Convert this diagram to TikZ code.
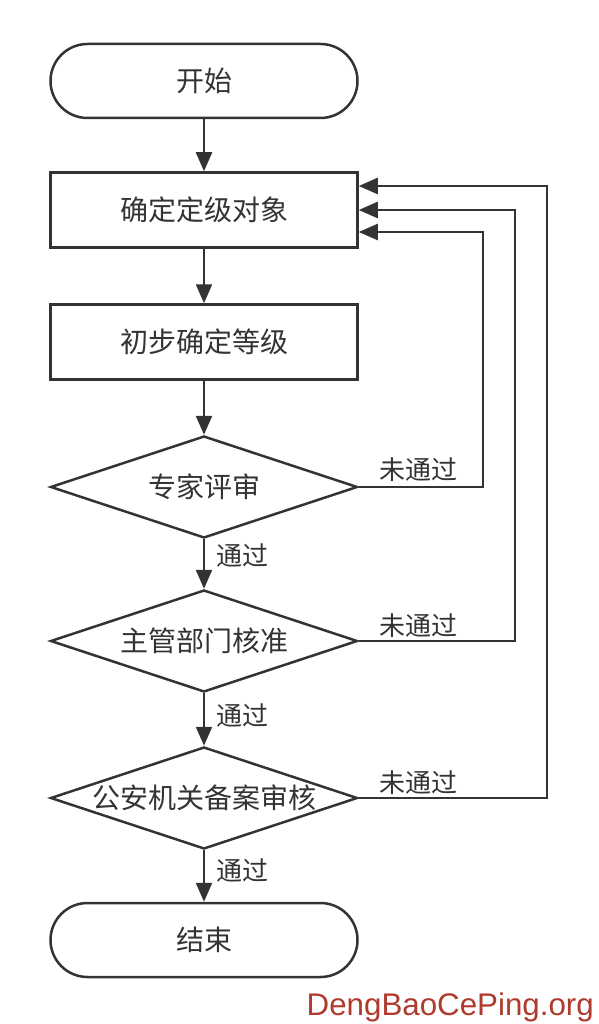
\documentclass[tikz,border=0pt]{standalone}
\usepackage{fontspec}
\newfontfamily\cjk{Noto Sans CJK SC}
\newfontfamily\wmfont{Liberation Sans}
\usetikzlibrary{shapes.geometric,arrows.meta}
\definecolor{ln}{HTML}{333333}
\definecolor{wm}{HTML}{B03A2E}
\newcommand{\zw}[1]{\makebox[0pt]{#1}}
\begin{document}
\begin{tikzpicture}[x=1pt,y=-1pt,
 base/.style={draw=ln, line width=2.5pt, text=ln, font=\cjk\fontsize{28}{32}\selectfont, minimum width=307pt, inner sep=0pt},
 term/.style={base, rectangle, rounded corners=37pt, minimum height=74pt},
 proc/.style={base, rectangle, minimum height=75pt},
 dec/.style={base, diamond, aspect=3, minimum height=102pt},
 arr/.style={draw=ln, line width=2.5pt, -{Triangle[length=19pt,width=16pt]}},
 lab/.style={text=ln, font=\cjk\fontsize{26}{30}\selectfont, inner sep=0pt}]
\useasboundingbox (0,0) rectangle (598,1024);
\node[term] (s) at (204,81) {开始};
\node[proc] (p1) at (204,210) {确定定级对象};
\node[proc] (p2) at (204,342) {初步确定等级};
\node[dec] (d1) at (204,487) {\zw{专家评审}};
\node[dec] (d2) at (204,641) {\zw{主管部门核准}};
\node[dec] (d3) at (204,798) {\zw{公安机关备案审核}};
\node[term] (e) at (204,940) {结束};
\coordinate (in1) at ([yshift=-22pt]p1.east);
\coordinate (in2) at (p1.east);
\coordinate (in3) at ([yshift=24pt]p1.east);
\draw[arr] (s) -- (p1);
\draw[arr] (p1) -- (p2);
\draw[arr] (p2) -- (d1);
\draw[arr] (d1) -- (d2);
\draw[arr] (d2) -- (d3);
\draw[arr] (d3) -- (e);
\draw[arr] (d1.east) -- ++(124,0) |- (in1);
\draw[arr] (d2.east) -- ++(156,0) |- (in2);
\draw[arr] (d3.east) -- ++(188,0) |- (in3);
\node[lab] (n1) at (418,470) {未通过};
\node[lab] (n2) at (418,626) {未通过};
\node[lab] (n3) at (418,783) {未通过};
\node[lab] (y1) at (242,556) {通过};
\node[lab] (y2) at (242,716) {通过};
\node[lab] (y3) at (242,871) {通过};
\node[text=wm, font=\wmfont\fontsize{31.3}{35}\selectfont, inner sep=0pt, anchor=base east] (wmk) at (594,1015) {DengBaoCePing.org};
\end{tikzpicture}
\end{document}
